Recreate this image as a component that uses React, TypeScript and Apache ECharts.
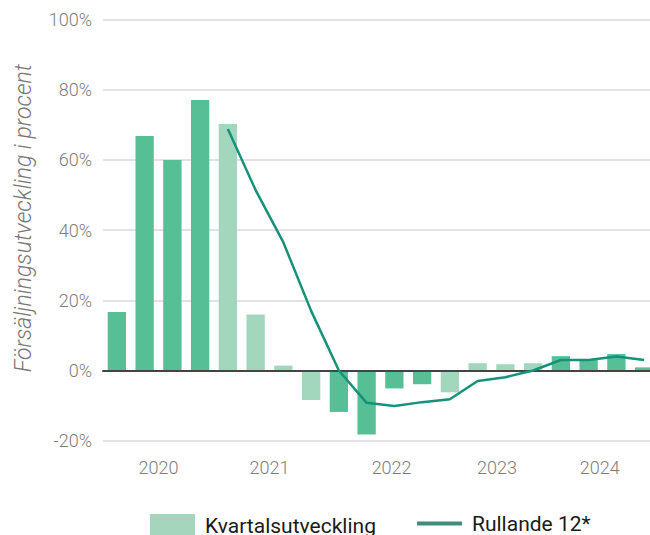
import React, { useEffect, useRef } from "react";
import * as echarts from "echarts";

const quarters = [
  "2020 Q1", "2020 Q2", "2020 Q3", "2020 Q4",
  "2021 Q1", "2021 Q2", "2021 Q3", "2021 Q4",
  "2022 Q1", "2022 Q2", "2022 Q3", "2022 Q4",
  "2023 Q1", "2023 Q2", "2023 Q3", "2023 Q4",
  "2024 Q1", "2024 Q2", "2024 Q3", "2024 Q4",
];

const quarterlyGrowth = [
  16.7, 66.8, 60.0, 77.1,
  70.2, 16.0, 1.4, -8.4,
  -11.8, -18.2, -5.1, -3.9,
  -6.2, 2.1, 1.8, 2.1,
  4.1, 3.1, 4.7, 0.9,
];

const rolling12: (number | null)[] = [
  null, null, null, null,
  68.8, 51.4, 36.5, 17.0,
  0.0, -9.2, -10.1, -9.0,
  -8.2, -3.0, -1.9, 0.0,
  3.0, 3.0, 4.0, 3.0,
];

const yearLabels = ["2020", "2021", "2022", "2023", "2024"];
const yearLabelPositions = [1.5, 5.5, 9.9, 13.7, 17.4];

const yMin = -20;
const yMax = 100;
const yInterval = 20;

const DARK = "#56bf95";
const LIGHT = "#a2d7be";
const LINE = "#16917a";

export default function App() {
  const ref = useRef<HTMLDivElement>(null);

  useEffect(() => {
    if (!ref.current) return;
    const chart = echarts.init(ref.current, null, { renderer: "svg" });

    const labelMap: Record<number, string> = {};
    yearLabelPositions.forEach((p, i) => {
      labelMap[Math.round(p * 10)] = yearLabels[i];
    });

    const barData = quarterlyGrowth.map((v, i) => ({
      value: v,
      itemStyle: { color: Math.floor(i / 4) % 2 === 0 ? DARK : LIGHT },
    }));

    const legendText = {
      fontFamily: "Roboto",
      fontSize: 21,
      color: "#1a1a1a",
      padding: [0, 0, 0, 5],
    };

    chart.setOption({
      animation: false,
      grid: {
        left: 103,
        top: 19.5,
        width: 555,
        height: 421.25,
        outerBoundsMode: "none",
        containLabel: false,
      },
      legend: [
        {
          left: 150,
          top: 514,
          padding: 0,
          itemWidth: 45,
          itemHeight: 24,
          data: ["Kvartalsutveckling"],
          icon: "rect",
          itemStyle: { color: "#a6d5bd" },
          textStyle: legendText,
        },
        {
          left: 417,
          top: 513,
          padding: 0,
          itemWidth: 45,
          itemHeight: 4,
          data: ["Rullande 12*"],
          icon: "rect",
          itemStyle: { color: "#3f8d7c" },
          textStyle: legendText,
        },
      ],
      xAxis: [
        {
          type: "category",
          data: quarters,
          boundaryGap: true,
          z: 3,
          axisLine: { show: true, onZero: true, lineStyle: { color: "#444", width: 2 } },
          axisTick: { show: false },
          axisLabel: { show: false },
          splitLine: { show: false },
        },
        {
          type: "value",
          position: "bottom",
          min: -0.5,
          max: 19.5,
          interval: 0.1,
          axisLine: { show: false, onZero: false },
          axisTick: { show: false },
          splitLine: { show: false },
          axisLabel: {
            show: true,
            margin: 18,
            fontFamily: "Roboto",
            fontWeight: 300,
            fontSize: 18,
            color: "#7d7d7d",
            showMinLabel: true,
            showMaxLabel: true,
            formatter: (v: number) => labelMap[Math.round(v * 10)] || "",
          },
        },
      ],
      yAxis: {
        type: "value",
        min: yMin,
        max: yMax,
        interval: yInterval,
        name: "Försäljningsutveckling i procent",
        nameLocation: "middle",
        nameGap: 68,
        nameTextStyle: {
          fontFamily: "Roboto",
          fontStyle: "italic",
          fontWeight: 300,
          fontSize: 23,
          color: "#777",
          padding: [0, 0, 0, 24],
        },
        axisLine: { show: false, onZero: false },
        axisTick: { show: false },
        axisLabel: {
          margin: 11,
          fontFamily: "Roboto",
          fontWeight: 300,
          fontSize: 18,
          color: "#7d7d7d",
          formatter: "{value}%",
        },
        splitLine: { show: true, lineStyle: { color: "#d9d9d9", width: 1.5 } },
      },
      series: [
        {
          name: "Kvartalsutveckling",
          type: "bar",
          xAxisIndex: 0,
          barWidth: "66%",
          itemStyle: { color: LIGHT },
          data: barData,
          z: 2,
        },
        {
          name: "Rullande 12*",
          type: "line",
          xAxisIndex: 0,
          data: rolling12,
          showSymbol: false,
          symbol: "none",
          connectNulls: false,
          lineStyle: { color: LINE, width: 2.5 },
          itemStyle: { color: LINE },
          z: 4,
        },
      ],
    });

    return () => chart.dispose();
  }, []);

  return (
    <div
      ref={ref}
      style={{ position: "absolute", left: 0, top: 0, width: 650, height: 535 }}
    />
  );
}
